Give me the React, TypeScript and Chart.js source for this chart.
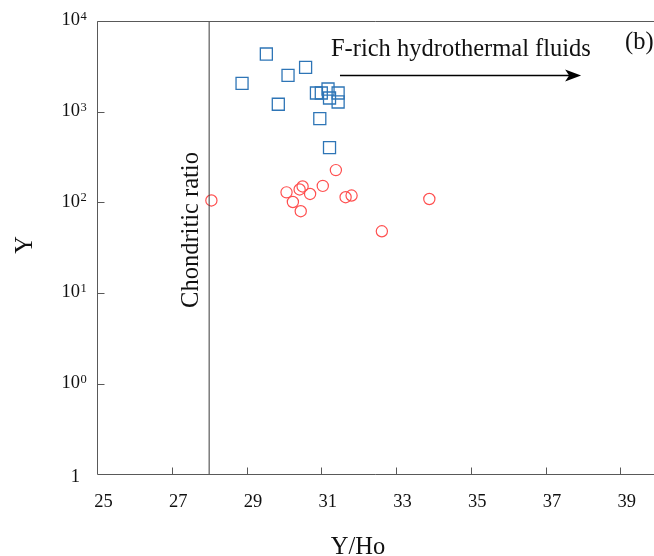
import React, { useEffect, useRef } from "react";
import { Chart, registerables } from "chart.js";

Chart.register(...registerables);

// ---- data ----
const xTicks = [25, 27, 29, 31, 33, 35, 37, 39];
const yTicks = [0.1, 1, 10, 100, 1000, 10000];
const yTickBase = ["1", "10", "10", "10", "10", "10"];
const yTickExp = ["", "0", "1", "2", "3", "4"];

const xMin = 25;
const xMax = 39.9;
const yMin = 0.1;
const yMax = 10000;

// blue squares (F-rich hydrothermal fluid affected samples)
const fluidYHo = [29.53, 28.88, 30.11, 30.58, 29.85, 30.87, 31.0, 31.18, 31.22, 31.45, 31.45, 30.96, 31.22];
const fluidY = [4325, 2055, 2518, 3083, 1208, 1607, 1607, 1778, 1416, 1607, 1280, 837, 401];

// red circles
const otherYHo = [28.06, 30.07, 30.24, 30.42, 30.5, 30.45, 30.7, 31.04, 31.39, 31.65, 31.81, 32.62, 33.89];
const otherY = [105, 129, 101, 139, 150, 80, 124, 152, 227, 114, 119, 48, 109];

const chondriticRatio = 28;

const arrowFrom = { x: 31.5, y: 2570 };
const arrowTo = { x: 37.95, y: 2570 };
const arrowText = "F-rich hydrothermal fluids";
const panelLabel = "(b)";
const chondriticText = "Chondritic ratio";
const xTitle = "Y/Ho";
const yTitle = "Y";

const SERIF = '"Liberation Serif", "Times New Roman", serif';

const decor = {
  id: "decor",
  afterDraw(chart: any) {
    const { ctx, chartArea, scales } = chart;
    const { left, right, top, bottom } = chartArea;
    const xs = scales.x;
    const ys = scales.y;
    ctx.save();
    const L = Math.floor(left) + 0.5;
    const B = Math.floor(bottom) + 0.5;
    const T = Math.floor(top) + 0.5;
    // frame
    ctx.strokeStyle = "#595959";
    ctx.lineWidth = 1;
    ctx.beginPath();
    ctx.moveTo(L, T);
    ctx.lineTo(right, T);
    ctx.moveTo(L, T);
    ctx.lineTo(L, B);
    ctx.lineTo(right, B);
    ctx.stroke();
    // inward ticks
    ctx.beginPath();
    xTicks.forEach((v, i) => {
      if (i === 0) return;
      const px = Math.round(xs.getPixelForValue(v)) + 0.5;
      ctx.moveTo(px, B);
      ctx.lineTo(px, B - 7);
    });
    yTicks.forEach((v, i) => {
      if (i === 0) return;
      const py = Math.round(ys.getPixelForValue(v)) + 0.5;
      ctx.moveTo(L, py);
      ctx.lineTo(L + 7, py);
    });
    ctx.stroke();

    ctx.fillStyle = "#111";
    // x tick labels
    ctx.font = `18.5px ${SERIF}`;
    ctx.textAlign = "center";
    ctx.textBaseline = "alphabetic";
    xTicks.forEach((v) => {
      const px = xs.getPixelForValue(v);
      ctx.fillText(String(v), px + 6.5, bottom + 32.5);
    });
    // y tick labels with superscripts
    yTicks.forEach((v, i) => {
      const py = ys.getPixelForValue(v);
      const rx = left - 17;
      ctx.font = `18.5px ${SERIF}`;
      ctx.textAlign = "right";
      ctx.fillText(yTickBase[i], rx, py + (i === 0 ? 7 : 4.3));
      if (yTickExp[i]) {
        ctx.font = `12.5px ${SERIF}`;
        ctx.textAlign = "left";
        ctx.fillText(yTickExp[i], rx + 0.5, py - 1);
      }
    });

    // axis titles
    ctx.font = `24.5px ${SERIF}`;
    ctx.textAlign = "center";
    ctx.fillText(xTitle, 358, 554);
    ctx.save();
    ctx.translate(32, 245);
    ctx.rotate(-Math.PI / 2);
    ctx.textAlign = "center";
    ctx.textBaseline = "alphabetic";
    ctx.fillText(yTitle, 0, 0);
    ctx.restore();

    // chondritic label
    const cx = xs.getPixelForValue(chondriticRatio);
    ctx.save();
    ctx.translate(cx - 11.5, 230);
    ctx.rotate(-Math.PI / 2);
    ctx.font = `24.5px ${SERIF}`;
    ctx.textAlign = "center";
    ctx.fillText(chondriticText, 0, 0);
    ctx.restore();

    // arrow annotation
    const ax0 = xs.getPixelForValue(arrowFrom.x);
    const ax1 = xs.getPixelForValue(arrowTo.x);
    const ay = Math.round(ys.getPixelForValue(arrowFrom.y)) + 0.5;
    ctx.strokeStyle = "#000";
    ctx.lineWidth = 1.3;
    ctx.beginPath();
    ctx.moveTo(ax0, ay);
    ctx.lineTo(ax1 - 10, ay);
    ctx.stroke();
    ctx.fillStyle = "#000";
    ctx.beginPath();
    ctx.moveTo(ax1, ay);
    ctx.lineTo(ax1 - 16, ay - 6);
    ctx.lineTo(ax1 - 12, ay);
    ctx.lineTo(ax1 - 16, ay + 6);
    ctx.closePath();
    ctx.fill();

    ctx.fillStyle = "#111";
    ctx.font = `24.5px ${SERIF}`;
    ctx.textAlign = "left";
    ctx.fillText(arrowText, ax0 - 9, ay - 19.5);

    // panel label
    ctx.fillText(panelLabel, 625, 49);
    ctx.restore();
  },
};

export default function App() {
  const ref = useRef<HTMLCanvasElement>(null);
  useEffect(() => {
    const canvas = ref.current;
    if (!canvas) return;
    const chart = new Chart(canvas, {
      type: "scatter",
      data: {
        datasets: [
          {
            label: "Chondritic ratio",
            data: [
              { x: chondriticRatio, y: yMin },
              { x: chondriticRatio, y: yMax },
            ],
            showLine: true,
            borderColor: "#3a3a3a",
            borderWidth: 1,
            pointRadius: 0,
            backgroundColor: "rgba(0,0,0,0)",
          },
          {
            label: "F-rich",
            data: fluidYHo.map((x, i) => ({ x, y: fluidY[i] })),
            pointStyle: "rect",
            pointRadius: 8.5,
            borderColor: "#2e75b6",
            backgroundColor: "rgba(0,0,0,0)",
            borderWidth: 1.3,
          },
          {
            label: "Others",
            data: otherYHo.map((x, i) => ({ x, y: otherY[i] })),
            pointStyle: "circle",
            pointRadius: 5.6,
            borderColor: "#ff5050",
            backgroundColor: "rgba(0,0,0,0)",
            borderWidth: 1.2,
          },
        ],
      } as any,
      options: {
        responsive: false,
        animation: false,
        devicePixelRatio: 1,
        events: [],
        layout: { autoPadding: false, padding: { left: 97, top: 21, right: 0, bottom: 81.5 } },
        plugins: { legend: { display: false }, tooltip: { enabled: false } },
        scales: {
          x: { type: "linear", display: false, min: xMin, max: xMax },
          y: { type: "logarithmic", display: false, min: yMin, max: yMax },
        },
      } as any,
      plugins: [decor],
    });
    return () => chart.destroy();
  }, []);
  return (
    <div style={{ position: "fixed", left: 0, top: 0, width: 654, height: 556, background: "#fff" }}>
      <canvas ref={ref} width={654} height={556} style={{ display: "block" }} />
    </div>
  );
}
